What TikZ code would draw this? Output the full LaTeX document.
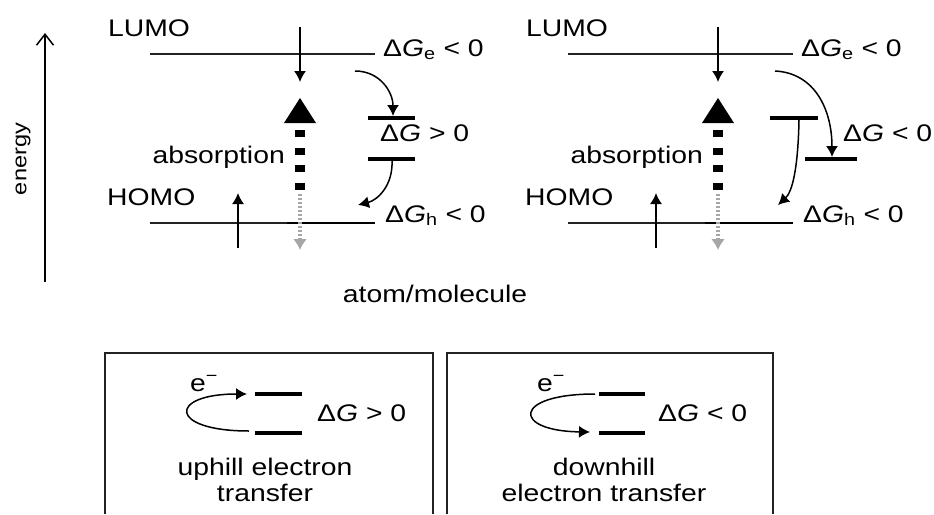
\documentclass[tikz,border=0pt]{standalone}
\usepackage{fontspec}
\setmainfont{Liberation Sans}[FakeStretch=1.18]
\usetikzlibrary{arrows.meta}
\definecolor{faint}{HTML}{A6A6A6}
\definecolor{rule}{HTML}{222222}
\tikzset{
  txt/.style={inner sep=0pt,font=\fontsize{24pt}{26pt}\selectfont},
  level/.style={draw=rule,line width=1.8pt},
  bar/.style={line width=3.8pt},
  hop/.style={-{Latex[length=11pt,width=12pt]},line width=1.5pt},
  pump/.style={line width=10pt,dash pattern=on 7pt off 10.5pt},
  leak/.style={faint,line width=3.2pt,dash pattern=on 2pt off 2pt,
    -{Latex[length=11pt,width=14pt]}},
  frame/.style={draw=rule,line width=1.3pt}
}
\newcommand{\dG}{Δ\textit{G}}

\begin{document}
\begin{tikzpicture}[x=1pt,y=-1pt]
\useasboundingbox (0,0) rectangle (934,514);

% energy axis
\coordinate (e0) at (45,282);
\coordinate (e1) at (45,33);
\draw[line width=1.5pt,-{Straight Barb[length=11pt,width=17pt]}] (e0) -- (e1);
\node[txt,font=\fontsize{20pt}{22pt}\selectfont,rotate=90] (energy) at (23,159) {energy};

% the two atom/molecule panels
\foreach \dx/\s in {0/a,418/b}{
  \begin{scope}[xshift=\dx pt]
    \node[txt,anchor=west] (lumo\s) at (108,28) {LUMO};
    \node[txt,anchor=west] (homo\s) at (107,197) {HOMO};
    \draw[level] (150,54) -- (375,54);
    \draw[level] (150,223) -- (375,223);
    \draw[line width=2.6pt] (287,223) -- (375,223);
    \node[txt,anchor=base west] (dge\s) at (383,56) {\dG\textsubscript{e} < 0};
    \node[txt,anchor=base west] (dgh\s) at (385,222) {\dG\textsubscript{h} < 0};
    \node[txt,anchor=base east] (abs\s) at (285,163) {absorption};
    % excitation
    \coordinate (in\s) at (300,27);
    \coordinate (out\s) at (300,82);
    \draw[hop] (in\s) -- (out\s);
    \fill (300,98) -- (316,123) -- (284,123) -- cycle;
    \draw[pump] (300,130) -- (300,192);
    \coordinate (lk\s) at (300,194);
    \coordinate (lkend\s) at (300,250);
    \draw[leak] (lk\s) -- (lkend\s);
    \coordinate (h0\s) at (238,248);
    \coordinate (h1\s) at (238,193);
    \draw[hop] (h0\s) -- (h1\s);
  \end{scope}
}

% left: uphill step
\draw[bar] (368,118) -- (415,118);
\draw[bar] (368,159) -- (415,159);
\node[txt,anchor=base west] (dgup) at (380,141.5) {\dG{} > 0};
\coordinate (ua) at (355,71);
\coordinate (ub) at (393,116);
\coordinate (uc) at (392,161);
\coordinate (ud) at (358,205);
\draw[hop] (ua) .. controls (380,71) and (393,92) .. (ub);
\draw[hop] (uc) .. controls (393,185) and (378,200) .. (ud);

% right: downhill step
\draw[bar] (770,118) -- (818,118);
\draw[bar] (805,159) -- (857,159);
\node[txt,anchor=base west] (dgdown) at (843,141.5) {\dG{} < 0};
\coordinate (da) at (775,71);
\coordinate (db) at (832,157);
\coordinate (dc) at (799,120);
\coordinate (dd) at (778,205);
\draw[hop] (da) .. controls (815,73) and (832,110) .. (db);
\draw[hop] (dc) .. controls (798,170) and (792,192) .. (dd);

\node[txt,anchor=base] (atom) at (435,302) {atom/molecule};

% legend boxes
\draw[frame] (105,514) -- (105,353) -- (433,353) -- (433,514);
\draw[frame] (447,514) -- (447,353) -- (773,353) -- (773,514);

\node[txt,anchor=base west] (ea) at (190,391) {e\textsuperscript{\char"2212}};
\draw[bar] (255,394) -- (302,394);
\draw[bar] (255,433) -- (302,433);
\node[txt,anchor=base west] (dga) at (317,421.5) {\dG{} > 0};
\coordinate (pa) at (249,431);
\coordinate (pb) at (247,394);
\draw[hop] (pa) .. controls (168,431) and (168,394) .. (pb);
\node[txt,align=center] (uphill) at (265,480) {uphill electron\\transfer};

\node[txt,anchor=base west] (eb) at (537,391) {e\textsuperscript{\char"2212}};
\draw[bar] (599,394) -- (645,394);
\draw[bar] (599,433) -- (645,433);
\node[txt,anchor=base west] (dgb) at (658,421.5) {\dG{} < 0};
\coordinate (qa) at (595,394);
\coordinate (qb) at (590,432);
\draw[hop] (qa) .. controls (512,394) and (512,431) .. (qb);
\node[txt,align=center] (downhill) at (604,480) {downhill\\electron transfer};
\end{tikzpicture}
\end{document}
